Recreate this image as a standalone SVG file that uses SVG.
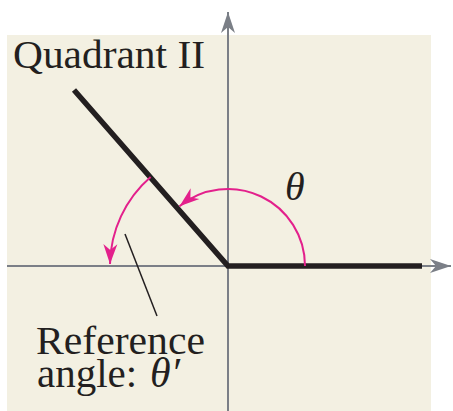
<svg xmlns="http://www.w3.org/2000/svg" width="453" height="411" viewBox="0 0 453 411">
  <style>
    .axis { stroke: #7b7f87; stroke-width: 2; fill: none; }
    .side { stroke: #231f20; stroke-width: 5.5; fill: none; stroke-linejoin: miter; }
    .arc { stroke: #e3208c; stroke-width: 2; fill: none; }
    .leader { stroke: #231f20; stroke-width: 1.5; fill: none; }
    .txt { font-family: "Liberation Serif", "Times New Roman", serif; fill: #231f20; }
    .it { font-style: italic; }
  </style>
  <defs>
    <marker id="axArrow" markerUnits="userSpaceOnUse" viewBox="-21 -8 22 16" refX="0" refY="0" markerWidth="22" markerHeight="16" orient="auto" overflow="visible">
      <path d="M0,0 L-21,-7 L-15,0 L-21,7 Z" fill="#7b7f87"/>
    </marker>
    <marker id="pinkArrow" markerUnits="userSpaceOnUse" viewBox="-20 -8 22 16" refX="0" refY="0" markerWidth="22" markerHeight="16" orient="auto" overflow="visible">
      <path d="M0,0 L-20,-7 L-14,0 L-20,7 Z" fill="#e3208c"/>
    </marker>
  </defs>

  <rect id="background" x="7" y="35" width="424" height="376" fill="#f3f0e2"/>

  <g id="axes">
    <line class="axis" x1="7" y1="266" x2="451" y2="266" marker-end="url(#axArrow)"/>
    <line class="axis" x1="228" y1="411" x2="228" y2="12" marker-end="url(#axArrow)"/>
  </g>

  <g id="sides">
    <polyline class="side" points="74,90 228,266 422,266"/>
  </g>

  <g id="connectors">
    <path id="theta-arc" class="arc" d="M305,266 A77,77 0 0 0 179.5,206.2" marker-end="url(#pinkArrow)"/>
    <path id="ref-arc" class="arc" d="M150.6,177 A118,118 0 0 0 110,264" marker-end="url(#pinkArrow)"/>
    <line id="leader" class="leader" x1="125" y1="234" x2="157" y2="316"/>
  </g>

  <g id="label-quadrant">
    <text class="txt" x="13" y="68" font-size="40" textLength="192" lengthAdjust="spacingAndGlyphs">Quadrant II</text>
  </g>
  <g id="label-theta">
    <text class="txt it" x="285" y="200" font-size="40">θ</text>
  </g>
  <g id="label-reference">
    <text class="txt" x="36" y="354" font-size="41" textLength="169" lengthAdjust="spacingAndGlyphs">Reference</text>
    <text class="txt" x="37" y="387" font-size="41">angle:<tspan class="it" x="150" font-size="42">θ′</tspan></text>
  </g>
</svg>
